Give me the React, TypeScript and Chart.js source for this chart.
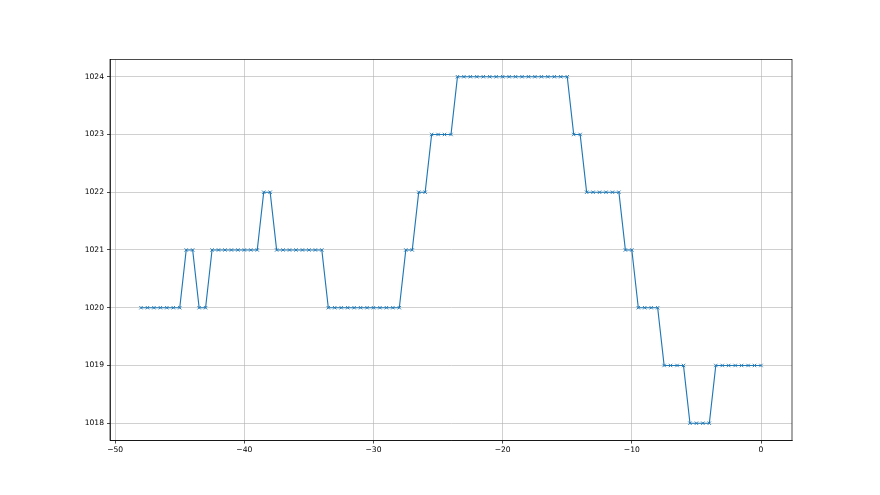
import React, { useEffect, useRef } from "react";
import { Chart, registerables } from "chart.js";

Chart.register(...registerables);

const xValues = [
  -48, -47.5, -47, -46.5, -46, -45.5, -45, -44.5, -44, -43.5, -43, -42.5, -42, -41.5, -41, -40.5,
  -40, -39.5, -39, -38.5, -38, -37.5, -37, -36.5, -36, -35.5, -35, -34.5, -34, -33.5, -33, -32.5,
  -32, -31.5, -31, -30.5, -30, -29.5, -29, -28.5, -28, -27.5, -27, -26.5, -26, -25.5, -25, -24.5,
  -24, -23.5, -23, -22.5, -22, -21.5, -21, -20.5, -20, -19.5, -19, -18.5, -18, -17.5, -17, -16.5,
  -16, -15.5, -15, -14.5, -14, -13.5, -13, -12.5, -12, -11.5, -11, -10.5, -10, -9.5, -9, -8.5,
  -8, -7.5, -7, -6.5, -6, -5.5, -5, -4.5, -4, -3.5, -3, -2.5, -2, -1.5, -1, -0.5, 0,
];

const pressure = [
  1020, 1020, 1020, 1020, 1020, 1020, 1020,
  1021, 1021,
  1020, 1020,
  1021, 1021, 1021, 1021, 1021, 1021, 1021, 1021,
  1022, 1022,
  1021, 1021, 1021, 1021, 1021, 1021, 1021, 1021,
  1020, 1020, 1020, 1020, 1020, 1020, 1020, 1020, 1020, 1020, 1020, 1020,
  1021, 1021,
  1022, 1022,
  1023, 1023, 1023, 1023,
  1024, 1024, 1024, 1024, 1024, 1024, 1024, 1024, 1024, 1024, 1024, 1024, 1024, 1024, 1024, 1024, 1024, 1024,
  1023, 1023,
  1022, 1022, 1022, 1022, 1022, 1022,
  1021, 1021,
  1020, 1020, 1020, 1020,
  1019, 1019, 1019, 1019,
  1018, 1018, 1018, 1018,
  1019, 1019, 1019, 1019, 1019, 1019, 1019, 1019,
];

const xTicks = [-50, -40, -30, -20, -10, 0];
const yTicks = [1018, 1019, 1020, 1021, 1022, 1023, 1024];

const FONT = { family: "'DejaVu Sans', sans-serif", size: 7.6 };

const frame = {
  id: "frame",
  afterDraw(chart: any) {
    const { ctx, chartArea: a } = chart;
    ctx.save();
    ctx.strokeStyle = "#000";
    ctx.lineWidth = 0.7;
    ctx.strokeRect(a.left, a.top, a.right - a.left, a.bottom - a.top);
    ctx.restore();
  },
};

export default function App() {
  const ref = useRef<HTMLCanvasElement | null>(null);
  useEffect(() => {
    if (!ref.current) return;
    const chart = new Chart(ref.current, {
      type: "line",
      data: {
        datasets: [
          {
            data: xValues.map((x, i) => ({ x, y: pressure[i] })),
            borderColor: "#1f77b4",
            backgroundColor: "#1f77b4",
            borderWidth: 1.15,
            pointStyle: "crossRot",
            pointRadius: 2.4,
            pointBorderWidth: 0.9,
            pointBorderColor: "#1f77b4",
            pointHoverRadius: 2.4,
            tension: 0,
            fill: false,
          },
        ],
      },
      options: {
        responsive: false,
        animation: false,
        events: [],
        layout: { padding: { left: 0, top: 59.4, right: 88, bottom: 0 } },
        plugins: { legend: { display: false }, tooltip: { enabled: false } },
        scales: {
          x: {
            type: "linear",
            min: -50.4,
            max: 2.4,
            afterBuildTicks: (s: any) => {
              s.ticks = xTicks.map((v) => ({ value: v }));
            },
            afterFit: (s: any) => {
              s.height = 54.45;
            },
            grid: {
              color: "#b0b0b0",
              lineWidth: 0.6,
              tickColor: "#000",
              tickLength: 3,
              tickWidth: 0.7,
            },
            border: { display: true, color: "#000", width: 0.7 },
            ticks: {
              color: "#000",
              font: FONT,
              padding: 2,
              maxRotation: 0,
              autoSkip: false,
              callback: (v: any) => String(v).replace("-", "\u2212"),
            },
          },
          y: {
            type: "linear",
            min: 1017.7,
            max: 1024.3,
            afterBuildTicks: (s: any) => {
              s.ticks = yTicks.map((v) => ({ value: v }));
            },
            afterFit: (s: any) => {
              s.width = 110;
            },
            grid: {
              color: "#b0b0b0",
              lineWidth: 0.6,
              tickColor: "#000",
              tickLength: 3,
              tickWidth: 0.7,
            },
            border: { display: true, color: "#000", width: 0.7 },
            ticks: {
              color: "#000",
              font: FONT,
              padding: 3,
              autoSkip: false,
              callback: (v: any) => String(v),
            },
          },
        },
      },
      plugins: [frame],
    });
    return () => chart.destroy();
  }, []);
  return (
    <div style={{ position: "absolute", left: 0, top: 0, width: 880, height: 495, background: "#fff" }}>
      <canvas ref={ref} width={880} height={495} />
    </div>
  );
}
